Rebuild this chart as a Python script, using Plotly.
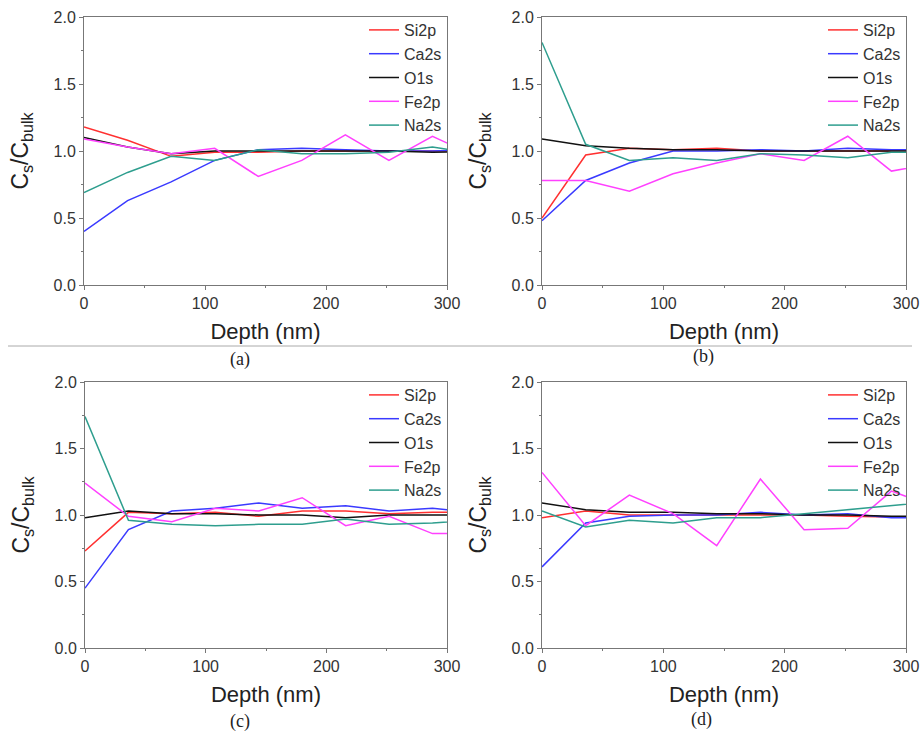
import plotly.graph_objects as go

depth = [0, 36, 72, 108, 144, 180, 216, 252, 288, 324]
species = ["Si2p", "Ca2s", "O1s", "Fe2p", "Na2s"]
colors = ["#ff3030", "#3a3aff", "#111111", "#ff40ff", "#2e9e8e"]

a_si = [1.18, 1.08, 0.96, 0.99, 0.99, 1.00, 1.00, 1.00, 1.00, 1.00]
a_ca = [0.40, 0.63, 0.77, 0.93, 1.01, 1.02, 1.01, 1.00, 1.00, 1.01]
a_o = [1.10, 1.03, 0.98, 1.00, 1.00, 1.00, 1.00, 1.00, 0.99, 1.00]
a_fe = [1.09, 1.03, 0.98, 1.02, 0.81, 0.93, 1.12, 0.93, 1.11, 0.96]
a_na = [0.69, 0.84, 0.96, 0.93, 1.01, 0.98, 0.98, 0.99, 1.03, 0.98]

b_si = [0.50, 0.97, 1.02, 1.01, 1.02, 1.00, 1.00, 1.00, 1.00, 1.00]
b_ca = [0.48, 0.78, 0.91, 1.00, 1.00, 1.01, 1.00, 1.02, 1.01, 1.01]
b_o = [1.09, 1.04, 1.02, 1.01, 1.01, 1.00, 1.00, 1.00, 1.00, 1.00]
b_fe = [0.78, 0.78, 0.70, 0.83, 0.91, 0.98, 0.93, 1.11, 0.85, 0.91]
b_na = [1.81, 1.05, 0.93, 0.95, 0.93, 0.98, 0.97, 0.95, 0.99, 0.99]

c_si = [0.73, 1.02, 1.01, 1.02, 0.99, 1.03, 1.03, 1.01, 1.02, 1.02]
c_ca = [0.45, 0.89, 1.03, 1.05, 1.09, 1.05, 1.07, 1.03, 1.05, 1.02]
c_o = [0.98, 1.03, 1.01, 1.01, 1.00, 1.00, 0.98, 1.00, 1.00, 1.00]
c_fe = [1.24, 0.99, 0.95, 1.05, 1.03, 1.13, 0.92, 0.99, 0.86, 0.86]
c_na = [1.74, 0.96, 0.93, 0.92, 0.93, 0.93, 0.97, 0.93, 0.94, 0.96]

d_si = [0.98, 1.03, 1.00, 1.00, 1.00, 1.00, 1.00, 0.99, 0.99, 0.98]
d_ca = [0.61, 0.94, 0.99, 1.00, 1.00, 1.02, 1.00, 1.01, 0.98, 0.98]
d_o = [1.09, 1.04, 1.02, 1.02, 1.01, 1.01, 1.00, 1.00, 0.99, 0.99]
d_fe = [1.32, 0.92, 1.15, 1.01, 0.77, 1.27, 0.89, 0.90, 1.18, 1.06]
d_na = [1.03, 0.91, 0.96, 0.94, 0.98, 0.98, 1.01, 1.04, 1.07, 1.10]

panels = [
    ("(a)", [a_si, a_ca, a_o, a_fe, a_na]),
    ("(b)", [b_si, b_ca, b_o, b_fe, b_na]),
    ("(c)", [c_si, c_ca, c_o, c_fe, c_na]),
    ("(d)", [d_si, d_ca, d_o, d_fe, d_na]),
]

W, H = 920, 736
# plot-area boxes in pixels (left, right, top, bottom)
boxes = [(84, 447, 17, 285), (542, 906, 17, 285), (85, 447, 382, 648), (542, 906, 382, 648)]
caption_pos = [(240, 359), (703, 356), (240, 721), (701, 719)]

def px(x):
    return x / W

def py(y):
    return 1 - y / H

fig = go.Figure()
layout = dict(width=W, height=H, margin=dict(l=0, r=0, t=0, b=0, autoexpand=False),
              paper_bgcolor="white", plot_bgcolor="white", showlegend=True,
              font=dict(family="Liberation Sans, Arial", color="#333"))
annotations = []
for i, (cap, series) in enumerate(panels):
    n = "" if i == 0 else str(i + 1)
    leg = "legend" + n
    for name, col, ys in zip(species, colors, series):
        fig.add_trace(go.Scatter(x=depth, y=ys, mode="lines", name=name,
                                 line=dict(color=col, width=1.5),
                                 xaxis="x" + n, yaxis="y" + n, legend=leg))
    l, r, t, b = boxes[i]
    axis_common = dict(showline=True, linecolor="#777", linewidth=1, mirror=True,
                       ticks="outside", ticklen=4, tickcolor="#777", showgrid=False,
                       zeroline=False, automargin=False, tickfont=dict(size=16, color="#333"))
    layout["xaxis" + n] = dict(axis_common, domain=[px(l), px(r)], range=[0, 300],
                               dtick=100, anchor="y" + n,
                               minor=dict(dtick=50, ticklen=2, ticks="outside", tickcolor="#777"),
                               title=dict(text="Depth (nm)", font=dict(size=22, color="#222"), standoff=12))
    layout["yaxis" + n] = dict(axis_common, domain=[py(b), py(t)], range=[0, 2],
                               dtick=0.5, tickformat=".1f", anchor="x" + n,
                               minor=dict(dtick=0.25, ticklen=2, ticks="outside", tickcolor="#777"),
                               title=dict(text="C<sub>s</sub>/C<sub>bulk</sub>",
                                          font=dict(size=23, color="#222"), standoff=18))
    layout[leg] = dict(x=px(r), y=py(t - 4), xanchor="right", yanchor="top",
                       bgcolor="rgba(0,0,0,0)", font=dict(size=16, color="#333"),
                       tracegroupgap=0, itemwidth=30)
    cx, cy = caption_pos[i]
    annotations.append(dict(text=cap, x=px(cx), y=py(cy), xref="paper", yref="paper",
                            xanchor="center", yanchor="middle", showarrow=False,
                            font=dict(family="Liberation Serif", size=18, color="#222")))

layout["annotations"] = annotations
layout["shapes"] = [dict(type="line", xref="paper", yref="paper", x0=px(8), x1=px(912),
                         y0=py(346), y1=py(346), line=dict(color="#aaa", width=1))]
fig.update_layout(**layout)
fig.write_html("out.html", config={"displayModeBar": False},
               post_script="document.body.style.margin='0';document.body.style.overflow='hidden';")
